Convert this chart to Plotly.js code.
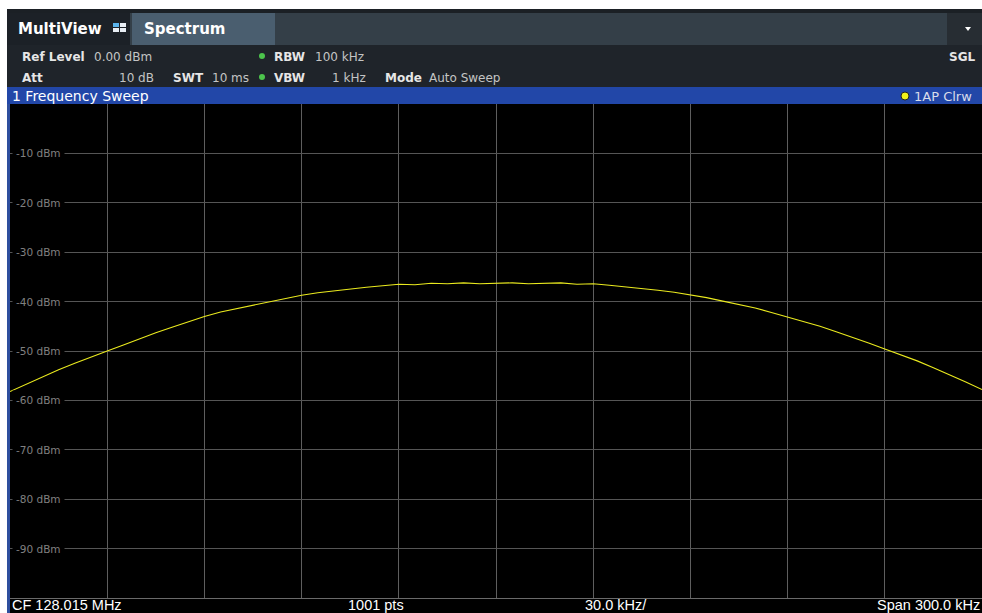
<!DOCTYPE html>
<html>
<head>
<meta charset="utf-8">
<script src="https://cdn.plot.ly/plotly-3.0.1.min.js"></script>
<style>
  html, body { margin: 0; padding: 0; background: #ffffff; }
  #chart { width: 982px; height: 613px; }
</style>
</head>
<body>
<div id="chart"></div>
<script>
// ---------------- data ----------------
const centerMHz = 128.015;
const spanKHz = 300.0;
const offsetKHz = [-150,-145,-140,-135,-130,-125,-120,-115,-110,-105,-100,-95,-90,-85,-80,-75,-70,-65,-60,-55,-50,-45,-40,-35,-30,-25,-20,-15,-10,-5,0,5,10,15,20,25,30,35,40,45,50,55,60,65,70,75,80,85,90,95,100,105,110,115,120,125,130,135,140,145,150];
const levelDbm = [-58.2,-56.7,-55.2,-53.8,-52.5,-51.2,-50.0,-48.8,-47.5,-46.3,-45.2,-44.1,-43.0,-42.1,-41.4,-40.7,-40.0,-39.3,-38.7,-38.2,-37.8,-37.4,-37.1,-36.8,-36.5,-36.6,-36.3,-36.4,-36.2,-36.4,-36.3,-36.2,-36.4,-36.3,-36.2,-36.5,-36.4,-36.7,-37.0,-37.3,-37.7,-38.1,-38.6,-39.2,-39.9,-40.6,-41.3,-42.2,-43.1,-44.0,-45.0,-46.1,-47.2,-48.4,-49.6,-50.8,-52.0,-53.4,-54.8,-56.3,-57.8];
const yTickVals = [-10,-20,-30,-40,-50,-60,-70,-80,-90];
const yTickLabels = ['-10 dBm','-20 dBm','-30 dBm','-40 dBm','-50 dBm','-60 dBm','-70 dBm','-80 dBm','-90 dBm'];
const footerLabels = ['CF 128.015 MHz', '1001 pts', '30.0 kHz/', 'Span 300.0 kHz'];

// ---------------- geometry helpers ----------------
const W = 982, H = 613;
const L = 10, R = 982, T = 104, B = 598;
const px = x => (x - L) / (R - L);
const py = y => (B - y) / (B - T);

const freqMHz = offsetKHz.map(o => centerMHz + o / 1000);
const xMin = centerMHz - spanKHz / 2000;
const xMax = centerMHz + spanKHz / 2000;

function rect(x0, y0, x1, y1, color) {
  return { type: 'rect', xref: 'paper', yref: 'paper', x0: px(x0), x1: px(x1), y0: py(y1), y1: py(y0),
           fillcolor: color, line: { width: 0 }, layer: 'above' };
}
function circ(cx, cy, r, color, lineColor) {
  return { type: 'circle', xref: 'paper', yref: 'paper', x0: px(cx - r), x1: px(cx + r), y0: py(cy + r), y1: py(cy - r),
           fillcolor: color, line: { width: lineColor ? 1 : 0, color: lineColor || color }, layer: 'above' };
}
function txt(text, x, y, anchor, size, color, family) {
  return { text: text, xref: 'paper', yref: 'paper', x: px(x), y: py(y), xanchor: anchor, yanchor: 'middle',
           showarrow: false, font: { size: size, color: color, family: family || 'DejaVu Sans' }, borderpad: 0 };
}

const shapes = [
  rect(7, 9, 982, 45, '#343f48'),
  rect(7, 9, 982, 13, '#1b2025'),
  rect(7, 13, 130, 45, '#1c2127'),
  rect(132, 13, 275, 45, '#4a5e6f'),
  rect(947, 13, 982, 45, '#272d33'),
  rect(7, 45, 982, 87, '#1f242a'),
  rect(7, 87, 982, 104, '#2247a8'),
  rect(7, 104, 10, 613, '#2f4f9e'),
  rect(10, 599, 982, 613, '#000000'),
  // MultiView icon
  rect(113, 23, 119, 27, '#5ab4ec'),
  rect(120, 23, 126, 27, '#e8eef4'),
  rect(113, 28, 119, 32, '#e8eef4'),
  rect(120, 28, 126, 32, '#e8eef4'),
  // dropdown triangle
  { type: 'path', xref: 'paper', yref: 'paper',
    path: `M ${px(965)} ${py(27)} L ${px(971)} ${py(27)} L ${px(968)} ${py(31)} Z`,
    fillcolor: '#ffffff', line: { width: 0 }, layer: 'above' },
  circ(262, 56, 3, '#4cc44c'),
  circ(262, 77, 3, '#4cc44c'),
  circ(905, 96, 4, '#f2f21a', '#222222')
];

const annotations = [
  txt('<b>MultiView</b>', 17, 29, 'left', 15, '#ffffff'),
  txt('<b>Spectrum</b>', 143, 29, 'left', 15, '#ffffff'),
  txt('<b>Ref Level</b>', 21, 57, 'left', 12, '#e6e6e6'),
  txt('0.00 dBm', 93, 57, 'left', 12, '#c4c4c4'),
  txt('<b>RBW</b>', 273, 57, 'left', 12, '#e6e6e6'),
  txt('100 kHz', 314, 57, 'left', 12, '#c4c4c4'),
  txt('<b>SGL</b>', 976, 57, 'right', 12, '#e6e6e6'),
  txt('<b>Att</b>', 21, 78, 'left', 12, '#e6e6e6'),
  txt('10 dB', 155, 78, 'right', 12, '#c4c4c4'),
  txt('<b>SWT</b>', 172, 78, 'left', 12, '#e6e6e6'),
  txt('10 ms', 211, 78, 'left', 12, '#c4c4c4'),
  txt('<b>VBW</b>', 273, 78, 'left', 12, '#e6e6e6'),
  txt('1 kHz', 367, 78, 'right', 12, '#c4c4c4'),
  txt('<b>Mode</b>', 384, 78, 'left', 12, '#e6e6e6'),
  txt('Auto Sweep', 428, 78, 'left', 12, '#c4c4c4'),
  txt('1 Frequency Sweep', 11, 96, 'left', 14, '#ffffff'),
  txt('1AP Clrw', 973, 96, 'right', 13, '#d8dcea'),
  txt(footerLabels[0], 11, 605, 'left', 14.5, '#ffffff', 'Liberation Sans'),
  txt(footerLabels[1], 376, 605, 'center', 14.5, '#ffffff', 'Liberation Sans'),
  txt(footerLabels[2], 616, 605, 'center', 14.5, '#ffffff', 'Liberation Sans'),
  txt(footerLabels[3], 981, 605, 'right', 14.5, '#ffffff', 'Liberation Sans')
];

yTickVals.forEach((v, i) => {
  annotations.push({
    text: yTickLabels[i], xref: 'paper', yref: 'y', x: px(12), y: v,
    xanchor: 'left', yanchor: 'middle', showarrow: false, bgcolor: '#000000', borderpad: 3,
    font: { size: 10.5, color: '#808080', family: 'DejaVu Sans' }
  });
});

const trace = {
  type: 'scatter', mode: 'lines', x: freqMHz, y: levelDbm,
  line: { color: '#eaea1e', width: 1.1 }, hoverinfo: 'skip', showlegend: false
};

const layout = {
  width: W, height: H,
  margin: { l: L, r: W - R, t: T, b: H - B, pad: 0 },
  paper_bgcolor: '#ffffff', plot_bgcolor: '#000000',
  showlegend: false,
  xaxis: {
    range: [xMin, xMax], dtick: 0.03, tick0: xMin, showgrid: true, gridcolor: '#5e5e5e', gridwidth: 1,
    zeroline: false, showticklabels: false, ticks: '', showline: true, linecolor: '#6a6a6a', linewidth: 1, fixedrange: true
  },
  yaxis: {
    range: [-100, 0], dtick: 10, tick0: 0, showgrid: true, gridcolor: '#555555', gridwidth: 1,
    zeroline: false, showticklabels: false, ticks: '', showline: false, fixedrange: true
  },
  shapes: shapes,
  annotations: annotations
};

Plotly.newPlot('chart', [trace], layout, { displayModeBar: false, staticPlot: true });
</script>
</body>
</html>
